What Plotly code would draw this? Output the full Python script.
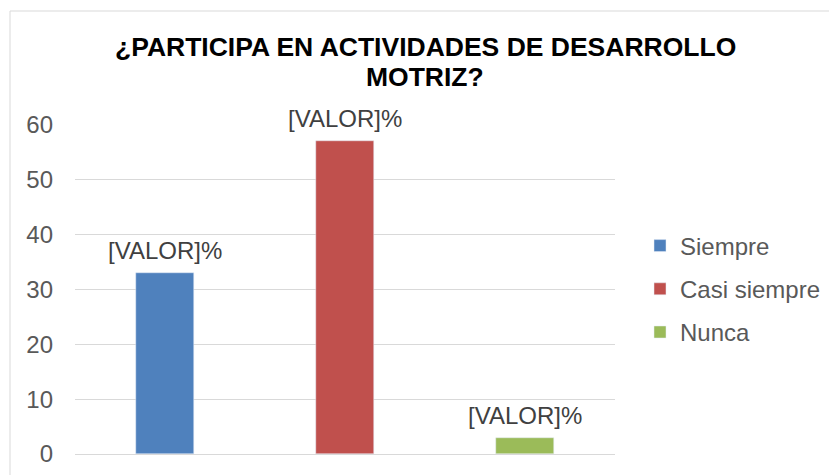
import plotly.graph_objects as go

categories = ["Siempre", "Casi siempre", "Nunca"]
values = [33, 57, 3]
colors = ["#4F81BD", "#C0504D", "#9BBB59"]
label_text = "[VALOR]%"
title_lines = ["¿PARTICIPA EN ACTIVIDADES DE DESARROLLO", "MOTRIZ?"]
y_ticks = [0, 10, 20, 30, 40, 50, 60]

W, H = 829, 475
L, R, T, B = 75, 14, 125, 21
PLOT_RIGHT = 615
PW = W - L - R
PH = H - T - B
FONT = "Liberation Sans, Arial"

def px_x(p):
    return (p - L) / PW

def px_y(p):
    return (H - B - p) / PH

fig = go.Figure()
for i, (c, v, col) in enumerate(zip(categories, values, colors)):
    fig.add_trace(go.Bar(
        x=[c], y=[v], name=c, marker_color=col, width=0.317,
        legendgroup=c,
    ))
    fig.add_annotation(x=c, y=v, xref="x", yref="y", text=label_text,
                       showarrow=False, yanchor="bottom", yshift=7,
                       font=dict(family=FONT, size=24, color="#404040"))

for j, (line, yc) in enumerate(zip(title_lines, [47, 77])):
    fig.add_annotation(x=px_x(425), y=px_y(yc), xref="paper", yref="paper",
                       text="<b>" + line + "</b>", showarrow=False,
                       xanchor="center", yanchor="middle",
                       font=dict(family=FONT, size=26.5, color="black"))

fig.update_layout(
    width=W, height=H,
    margin=dict(l=L, r=R, t=T, b=B, autoexpand=False),
    paper_bgcolor="white", plot_bgcolor="white",
    barmode="overlay",
    showlegend=True,
    xaxis=dict(domain=[0, px_x(PLOT_RIGHT)], range=[-0.5, 2.5],
               showticklabels=False, showgrid=False, automargin=False,
               showline=True, linecolor="#d9d9d9", linewidth=1, ticks="",
               zeroline=False),
    yaxis=dict(range=[0, 60], tickvals=y_ticks, showgrid=True, gridcolor="#d9d9d9",
               gridwidth=1, zeroline=False, showline=False, ticks="",
               automargin=False, ticklabelstandoff=21,
               tickfont=dict(family=FONT, size=24, color="#595959")),
    legend=dict(x=px_x(640), y=px_y(289), xanchor="left", yanchor="middle",
                font=dict(family=FONT, size=24, color="#595959"),
                tracegroupgap=9, itemwidth=30, bgcolor="rgba(0,0,0,0)"),
    bargap=0,
)

fig.add_shape(type="rect", xref="paper", yref="paper",
              x0=px_x(10), x1=px_x(900), y0=px_y(11), y1=px_y(520),
              line=dict(color="#d9d9d9", width=1), fillcolor="rgba(0,0,0,0)",
              layer="below")

fig.write_html("out.html", config={"displayModeBar": False},
               post_script="document.body.style.margin='0';")
